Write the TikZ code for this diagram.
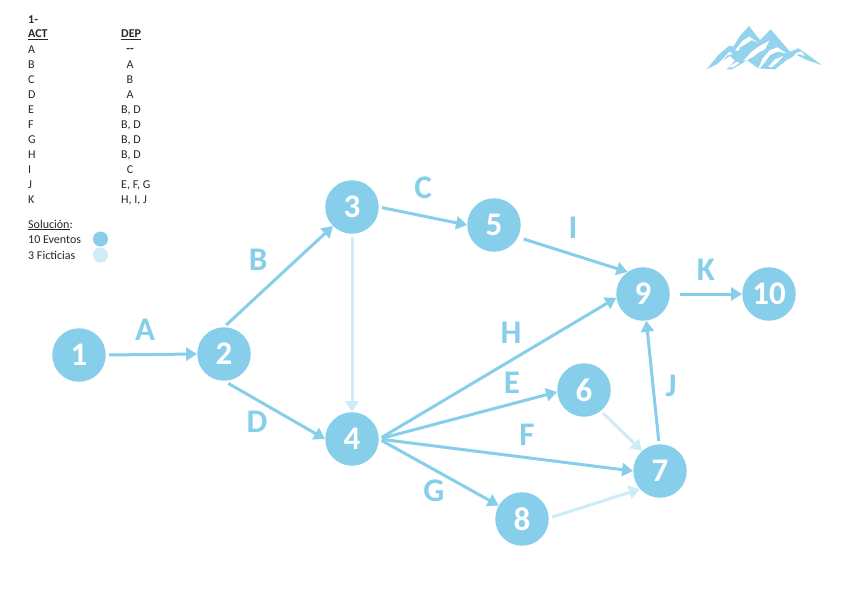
\documentclass[tikz,border=0pt]{standalone}
\usepackage{fontspec}
\setmainfont{Carlito}
\usetikzlibrary{arrows.meta}
\definecolor{mainblue}{HTML}{87CEEB}
\definecolor{paleblue}{HTML}{CFEBF8}
\tikzset{
  ev/.style={circle,fill=mainblue,draw=none,minimum size=53.5pt,inner sep=0pt,text=white,font=\fontsize{33}{33}\selectfont\bfseries},
  arr/.style={draw=mainblue,line width=3pt,-{Triangle[length=11pt,width=13pt]},shorten <=3pt},
  fic/.style={arr,draw=paleblue},
  lab/.style={text=mainblue,font=\fontsize{33}{33}\selectfont\bfseries,inner sep=0pt},
  tb/.style={anchor=west,inner sep=0pt,font=\fontsize{12}{12}\selectfont,text=black!85},
  tbc/.style={anchor=center,inner sep=0pt,font=\fontsize{12}{12}\selectfont,text=black!85},
}
\begin{document}
\begin{tikzpicture}[x=1pt,y=-1pt]
\useasboundingbox (0,0) rectangle (848,600);
% nodes
\node[ev] (n1) at (79,355) {1};
\node[ev] (n2) at (224,354) {2};
\node[ev] (n3) at (352,207) {3};
\node[ev] (n4) at (352,439) {4};
\node[ev] (n5) at (494,225) {5};
\node[ev] (n6) at (584,390) {6};
\node[ev] (n7) at (660,471) {7};
\node[ev] (n8) at (522,519) {8};
\node[ev] (n9) at (643,294) {9};
\node[ev] (n10) at (769,294) {10};
% connectors
\draw[arr] (n1.east) -- (n2.west);
\draw[arr] (n2.north) -- (n3.225);
\draw[arr,shorten <=5pt] (n2.south) -- (n4.west);
\draw[fic] (n3.south) -- (n4.north);
\draw[arr] (n3.east) -- (n5.west);
\draw[arr,shorten <=6pt] (n5.-27) -- (n9.125);
\draw[arr] (n4.east) -- (n9.188);
\draw[arr] (n4.east) -- (n6.184);
\draw[arr] (n4.east) -- (n7.west);
\draw[arr] (n4.east) -- (n8.150);
\draw[fic] (n6.-51) -- (n7.132);
\draw[fic] (n8.2) -- (n7.222);
\draw[arr] (n7.92) -- (n9.277);
\draw[arr,shorten <=10pt] (n9.east) -- (n10.west);
% labels
\node[lab] (la) at (145,330) {A};
\node[lab] (lb) at (258,260) {B};
\node[lab] (lc) at (423,188) {C};
\node[lab] (ld) at (257,422) {D};
\node[lab] (le) at (512,383) {E};
\node[lab] (lf) at (527,435) {F};
\node[lab] (lg) at (434,491) {G};
\node[lab] (lh) at (511,333) {H};
\node[lab] (li) at (573,228) {I};
\node[lab] (lj) at (671,386) {J};
\node[lab] (lk) at (706,270) {K};
% table
\node[tb] (t0) at (28,20) {\bfseries 1-};
\node[tb] (t1) at (28,35) {\bfseries\underline{ACT}};
\node[tb] (d1) at (121,35) {\bfseries\underline{DEP}};
\node[tb] (t2) at (28,50) {A};   \node[tbc] (d2) at (130,50) {\bfseries -{}-};
\node[tb] (t3) at (28,65) {B};   \node[tbc] (d3) at (130,65) {A};
\node[tb] (t4) at (28,80) {C};   \node[tbc] (d4) at (130,80) {B};
\node[tb] (t5) at (28,95) {D};   \node[tbc] (d5) at (130,95) {A};
\node[tb] (t6) at (28,110) {E};  \node[tb] (d6) at (121,110) {B, D};
\node[tb] (t7) at (28,125) {F};  \node[tb] (d7) at (121,125) {B, D};
\node[tb] (t8) at (28,140) {G};  \node[tb] (d8) at (121,140) {B, D};
\node[tb] (t9) at (28,155) {H};  \node[tb] (d9) at (121,155) {B, D};
\node[tb] (t10) at (28,170) {I}; \node[tbc] (d10) at (130,170) {C};
\node[tb] (t11) at (28,185) {J}; \node[tb] (d11) at (121,185) {E, F, G};
\node[tb] (t12) at (28,200) {K}; \node[tb] (d12) at (121,200) {H, I, J};
% legend
\node[tb] (s0) at (28,225) {\underline{Solución}:};
\node[tb] (s1) at (28,240) {10 Eventos};
\node[tb] (s2) at (28,255) {3 Ficticias};
\fill[mainblue] (100.5,239) circle (7.5);
\fill[paleblue] (100.5,255) circle (7.5);
% mountains
\begin{scope}[shift={(690,10)},x=.3333pt,y=-.3333pt]
\fill[mainblue!90!white] (50,178) -- (85,135) -- (118,107) -- (130,110) -- (150,78) -- (177,48) -- (195,72) -- (210,90) -- (242,58) -- (268,88) -- (300,125) -- (325,115) -- (350,132) -- (395,165) -- (350,150) -- (320,135) -- (290,150) -- (255,178) -- (205,175) -- (170,150) -- (160,158) -- (125,178) -- (110,178) -- (135,152) -- (120,138) -- (85,160) -- cycle;
\fill[white] (135,122) -- (158,92) -- (178,80) -- (205,98) -- (185,90) -- (168,102) -- (150,112) -- (146,122) -- cycle;
\fill[white] (160,152) -- (185,125) -- (205,110) -- (238,92) -- (225,118) -- (205,128) -- (190,140) -- (172,150) -- cycle;
\fill[white] (205,175) -- (218,145) -- (240,120) -- (262,112) -- (290,130) -- (262,125) -- (240,135) -- (228,152) -- (212,172) -- cycle;
\fill[white] (235,170) -- (255,148) -- (280,138) -- (265,155) -- (245,172) -- cycle;
\fill[white] (300,150) -- (320,128) -- (335,125) -- (345,138) -- (325,132) -- (310,145) -- cycle;
\fill[white] (75,170) -- (100,145) -- (118,125) -- (128,132) -- (112,136) -- (92,158) -- cycle;
\fill[white] (115,172) -- (140,155) -- (148,160) -- (128,172) -- cycle;
\end{scope}
\end{tikzpicture}
\end{document}
